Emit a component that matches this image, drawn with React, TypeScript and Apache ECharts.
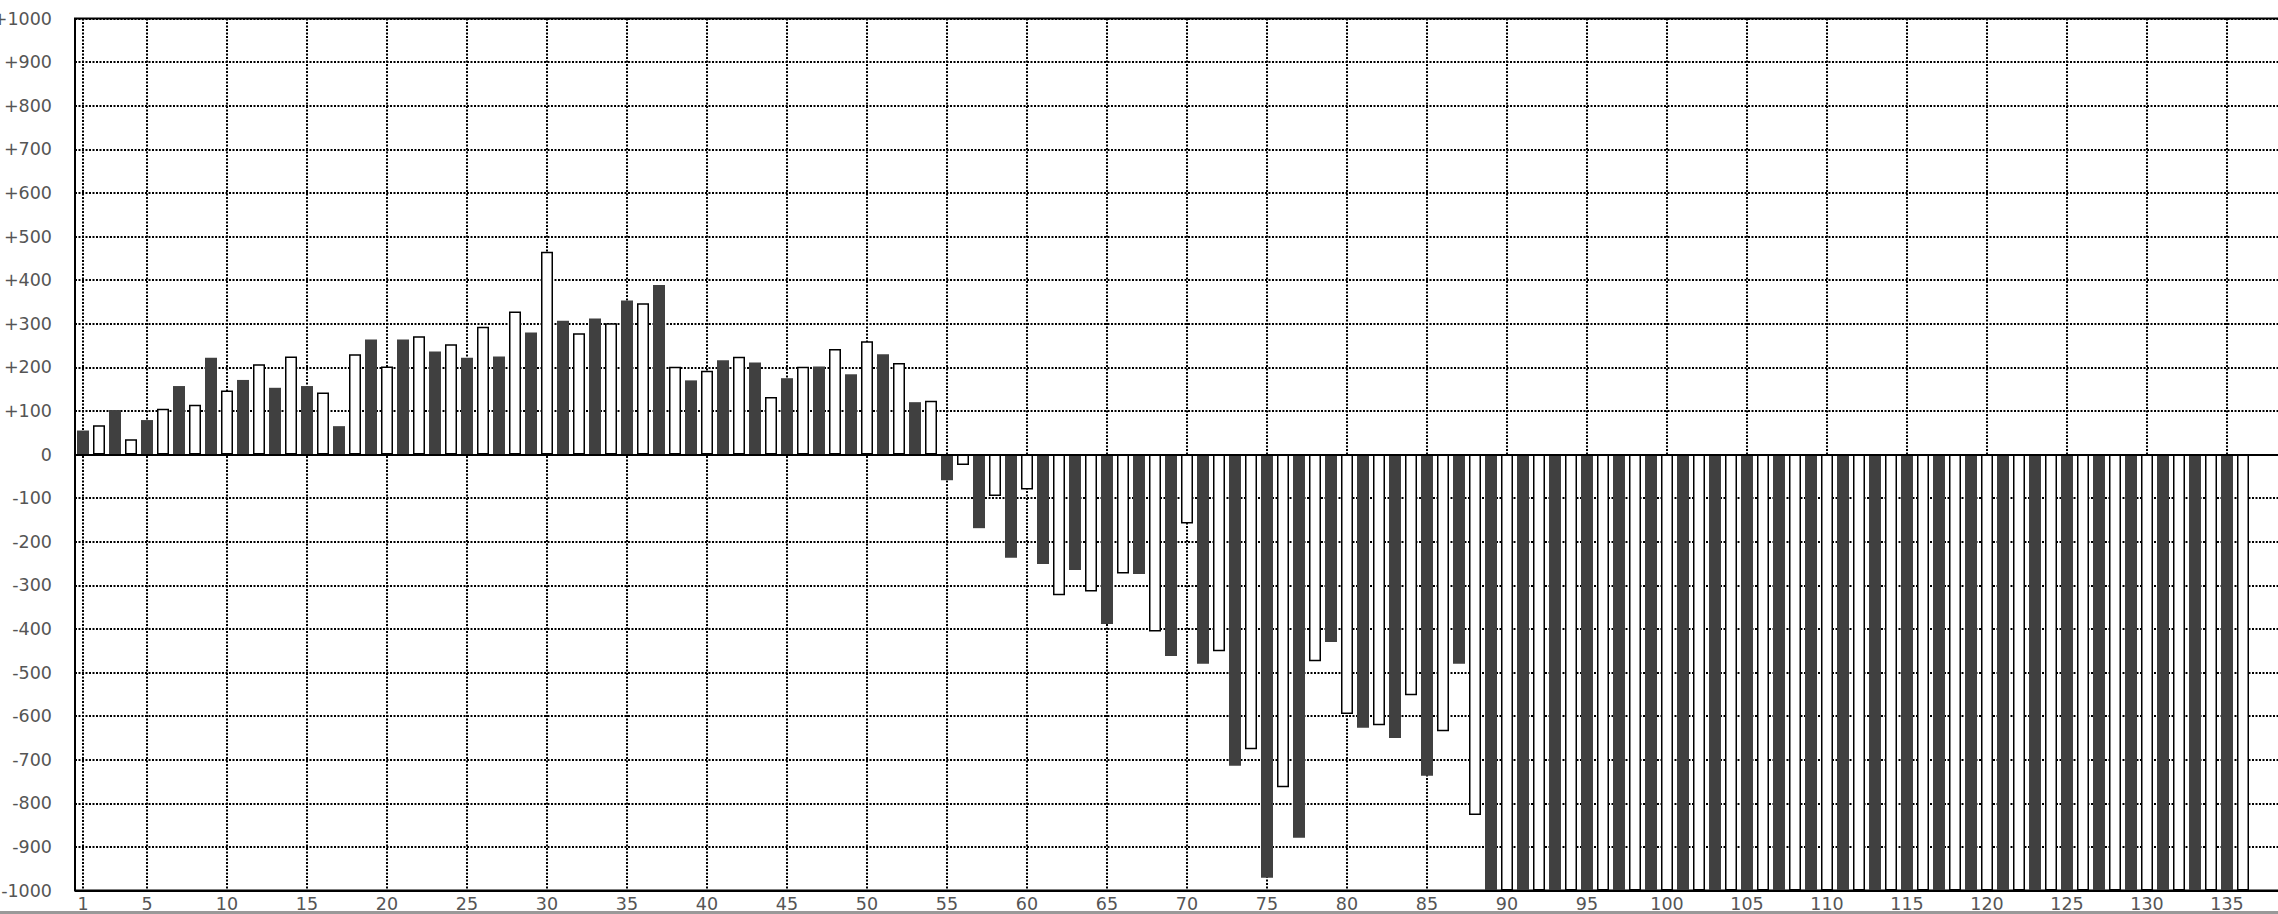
import React, { useEffect, useRef } from "react";
import * as echarts from "echarts";

const categories = [
  "1", "2", "3", "4", "5", "6", "7", "8", "9", "10",
  "11", "12", "13", "14", "15", "16", "17", "18", "19", "20",
  "21", "22", "23", "24", "25", "26", "27", "28", "29", "30",
  "31", "32", "33", "34", "35", "36", "37", "38", "39", "40",
  "41", "42", "43", "44", "45", "46", "47", "48", "49", "50",
  "51", "52", "53", "54", "55", "56", "57", "58", "59", "60",
  "61", "62", "63", "64", "65", "66", "67", "68", "69", "70",
  "71", "72", "73", "74", "75", "76", "77", "78", "79", "80",
  "81", "82", "83", "84", "85", "86", "87", "88", "89", "90",
  "91", "92", "93", "94", "95", "96", "97", "98", "99", "100",
  "101", "102", "103", "104", "105", "106", "107", "108", "109", "110",
  "111", "112", "113", "114", "115", "116", "117", "118", "119", "120",
  "121", "122", "123", "124", "125", "126", "127", "128", "129", "130",
  "131", "132", "133", "134", "135", "136", "137", "138",
];

const values = [
  55, 67, 102, 35, 79, 105, 157, 114, 222, 147,
  171, 207, 153, 225, 157, 142, 65, 230, 264, 202,
  264, 271, 236, 253, 222, 293, 225, 328, 280, 465,
  307, 278, 312, 301, 353, 347, 389, 201, 170, 192,
  216, 224, 211, 132, 175, 201, 202, 242, 184, 260,
  230, 210, 120, 123, -59, -24, -169, -95, -237, -80,
  -251, -323, -265, -314, -389, -273, -274, -406, -462, -158,
  -480, -451, -714, -676, -971, -763, -879, -474, -430, -595,
  -627, -621, -650, -552, -737, -635, -480, -827, -1000, -1000,
  -1000, -1000, -1000, -1000, -1000, -1000, -1000, -1000, -1000, -1000,
  -1000, -1000, -1000, -1000, -1000, -1000, -1000, -1000, -1000, -1000,
  -1000, -1000, -1000, -1000, -1000, -1000, -1000, -1000, -1000, -1000,
  -1000, -1000, -1000, -1000, -1000, -1000, -1000, -1000, -1000, -1000,
  -1000, -1000, -1000, -1000, -1000, -1000,
];

const yMin = -1000;
const yMax = 1000;
const yStep = 100;

const DARK = "#404040";
const FONT = "'DejaVu Sans', sans-serif";

export default function App() {
  const ref = useRef<HTMLDivElement>(null);
  useEffect(() => {
    const chart = echarts.init(ref.current!, null, { renderer: "svg" });
    const showIdx = (i: number) => i === 0 || (i + 1) % 5 === 0;
    const dotted = { color: "#000", width: 2, type: [2, 1.5] as number[] };
    chart.setOption({
      animation: false,
      backgroundColor: "#fff",
      textStyle: { fontFamily: FONT },
      grid: {
        left: 75,
        top: 18.5,
        width: 16 * categories.length,
        height: 872,
        outerBoundsMode: "none",
        containLabel: false,
        show: true,
        borderColor: "#000",
        borderWidth: 2,
        backgroundColor: "transparent",
      },
      xAxis: {
        type: "category",
        data: categories,
        axisLine: { show: false },
        axisTick: { show: false },
        axisLabel: {
          interval: (i: number) => showIdx(i),
          color: "#555",
          fontSize: 17.5,
          fontFamily: FONT,
          margin: 4,
        },
        splitLine: {
          show: true,
          interval: (i: number) => showIdx(i),
          alignWithLabel: true,
          lineStyle: dotted,
        },
      },
      yAxis: {
        type: "value",
        min: yMin,
        max: yMax,
        interval: yStep,
        axisLine: { show: false },
        axisTick: { show: false },
        axisLabel: {
          formatter: (v: number) => (v > 0 ? "+" + v : String(v)),
          color: "#555",
          fontSize: 17.5,
          fontFamily: FONT,
          margin: 23,
        },
        splitLine: { show: true, lineStyle: dotted },
      },
      series: [
        {
          type: "bar",
          barWidth: 12,
          data: values.map((v, i) =>
            i % 2 === 0
              ? { value: v, itemStyle: { color: DARK, borderWidth: 0 } }
              : { value: v, itemStyle: { color: "#fff", borderColor: "#000", borderWidth: 1.5 } }
          ),
          markLine: {
            silent: true,
            symbol: "none",
            label: { show: false },
            emphasis: { disabled: true },
            lineStyle: { color: "#000", width: 2, type: "solid" },
            data: [{ yAxis: 0 }, { yAxis: yMin }],
          },
        },
      ],
      graphic: [
        {
          type: "rect",
          left: 0,
          bottom: 0,
          shape: { width: 2278, height: 3 },
          style: { fill: "#999" },
        },
      ],
    });
    return () => chart.dispose();
  }, []);
  return (
    <div
      ref={ref}
      style={{ position: "fixed", left: 0, top: 0, width: 2278, height: 914 }}
    />
  );
}
